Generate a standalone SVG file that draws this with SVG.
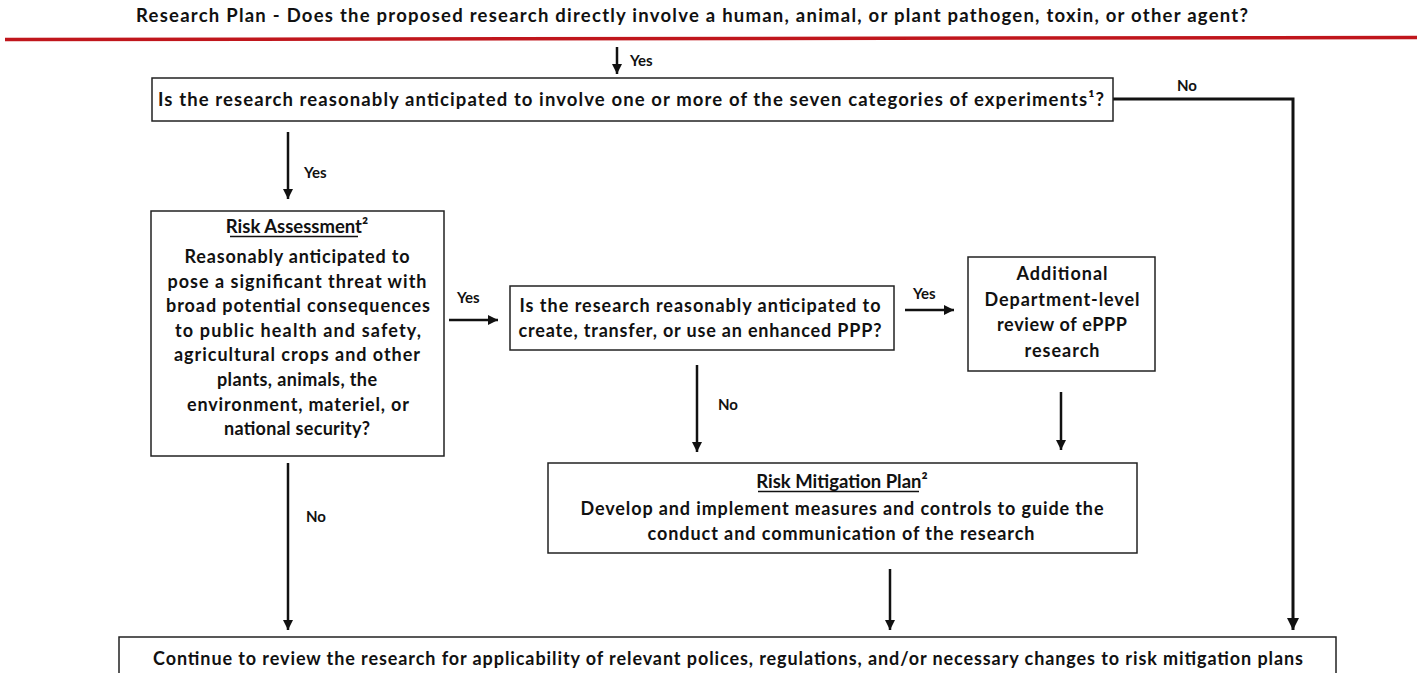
<svg xmlns="http://www.w3.org/2000/svg" width="1417" height="673" viewBox="0 0 1417 673">
<defs>
<style>
text{font-family:Lato,"Open Sans","Liberation Sans",sans-serif;font-weight:bold;fill:#111;}
.t{font-size:18px;text-anchor:middle;}
.h{font-size:18.5px;text-anchor:middle;}
.u{font-size:18.5px;text-anchor:middle;}
.l{font-size:15px;}
.box{fill:#fff;stroke:#222;stroke-width:1.5;}
.c{stroke:#111;stroke-width:2.5;fill:none;}
.ul{stroke:#111;stroke-width:1.3;}
</style>
<marker id="ah" viewBox="0 0 10 10" refX="10" refY="5" markerWidth="4" markerHeight="4" markerUnits="strokeWidth" orient="auto"><path d="M0,0 L10,5 L0,10 z" fill="#111"/></marker>
</defs>
<rect width="1417" height="673" fill="#fff"/>
<g id="title">
<text class="h" x="692" y="22" textLength="1112" lengthAdjust="spacing">Research Plan - Does the proposed research directly involve a human, animal, or plant pathogen, toxin, or other agent?</text>
<line x1="5" y1="39.5" x2="1417" y2="37.5" stroke="#c0161c" stroke-width="3.5"/>
</g>
<g id="connectors">
<line class="c" x1="617" y1="47" x2="617" y2="74" marker-end="url(#ah)"/>
<polyline class="c" points="1113,99 1293,99 1293,630" style="stroke-width:3" marker-end="url(#ah)"/>
<line class="c" x1="288" y1="132" x2="288" y2="199" marker-end="url(#ah)"/>
<line class="c" x1="449" y1="320" x2="498" y2="320" marker-end="url(#ah)"/>
<line class="c" x1="905" y1="310" x2="954" y2="310" marker-end="url(#ah)"/>
<line class="c" x1="697" y1="365" x2="697" y2="452" marker-end="url(#ah)"/>
<line class="c" x1="1061" y1="392" x2="1061" y2="450" marker-end="url(#ah)"/>
<line class="c" x1="288" y1="463" x2="288" y2="630" marker-end="url(#ah)"/>
<line class="c" x1="890" y1="569" x2="890" y2="630" marker-end="url(#ah)"/>
<text class="l" x="630" y="66">Yes</text>
<text class="l" x="1177" y="91">No</text>
<text class="l" x="304" y="178">Yes</text>
<text class="l" x="457" y="303">Yes</text>
<text class="l" x="913" y="299">Yes</text>
<text class="l" x="718" y="410">No</text>
<text class="l" x="306" y="522">No</text>
</g>
<g id="q1">
<rect class="box" x="152" y="78" width="961" height="43"/>
<text class="h" x="631" y="106" textLength="946" lengthAdjust="spacing">Is the research reasonably anticipated to involve one or more of the seven categories of experiments¹?</text>
</g>
<g id="risk-assessment">
<rect class="box" x="151" y="211" width="293" height="245"/>
<text class="u" x="297" y="233">Risk Assessment²</text>
<line class="ul" x1="230" y1="236.5" x2="358" y2="236.5"/>
<text class="t" x="297" y="263" textLength="225" lengthAdjust="spacing">Reasonably anticipated to</text>
<text class="t" x="297" y="288" textLength="259" lengthAdjust="spacing">pose a significant threat with</text>
<text class="t" x="298" y="312" textLength="264" lengthAdjust="spacing">broad potential consequences</text>
<text class="t" x="298" y="337" textLength="246" lengthAdjust="spacing">to public health and safety,</text>
<text class="t" x="297" y="361" textLength="246" lengthAdjust="spacing">agricultural crops and other</text>
<text class="t" x="297" y="386" textLength="160" lengthAdjust="spacing">plants, animals, the</text>
<text class="t" x="298" y="411" textLength="222" lengthAdjust="spacing">environment, materiel, or</text>
<text class="t" x="297" y="435" textLength="146" lengthAdjust="spacing">national security?</text>
</g>
<g id="q-eppp">
<rect class="box" x="510" y="286" width="384" height="64"/>
<text class="t" x="700" y="312" textLength="361" lengthAdjust="spacing">Is the research reasonably anticipated to</text>
<text class="t" x="700" y="337" textLength="363" lengthAdjust="spacing">create, transfer, or use an enhanced PPP?</text>
</g>
<g id="dept-review">
<rect class="box" x="968" y="257" width="187" height="114"/>
<text class="t" x="1062" y="280" textLength="91" lengthAdjust="spacing">Additional</text>
<text class="t" x="1062" y="306" textLength="155" lengthAdjust="spacing">Department-level</text>
<text class="t" x="1062" y="331" textLength="130" lengthAdjust="spacing">review of ePPP</text>
<text class="t" x="1062" y="357" textLength="75" lengthAdjust="spacing">research</text>
</g>
<g id="risk-mitigation">
<rect class="box" x="548" y="463" width="589" height="90"/>
<text class="u" x="842" y="488">Risk Mitigation Plan²</text>
<line class="ul" x1="758" y1="491.5" x2="919" y2="491.5"/>
<text class="t" x="842" y="515" textLength="523" lengthAdjust="spacing">Develop and implement measures and controls to guide the</text>
<text class="t" x="841" y="540" textLength="387" lengthAdjust="spacing">conduct and communication of the research</text>
</g>
<g id="continue">
<rect class="box" x="119" y="637" width="1217" height="50"/>
<text class="t" x="728" y="665" textLength="1150" lengthAdjust="spacing">Continue to review the research for applicability of relevant polices, regulations, and/or necessary changes to risk mitigation plans</text>
</g>
</svg>
